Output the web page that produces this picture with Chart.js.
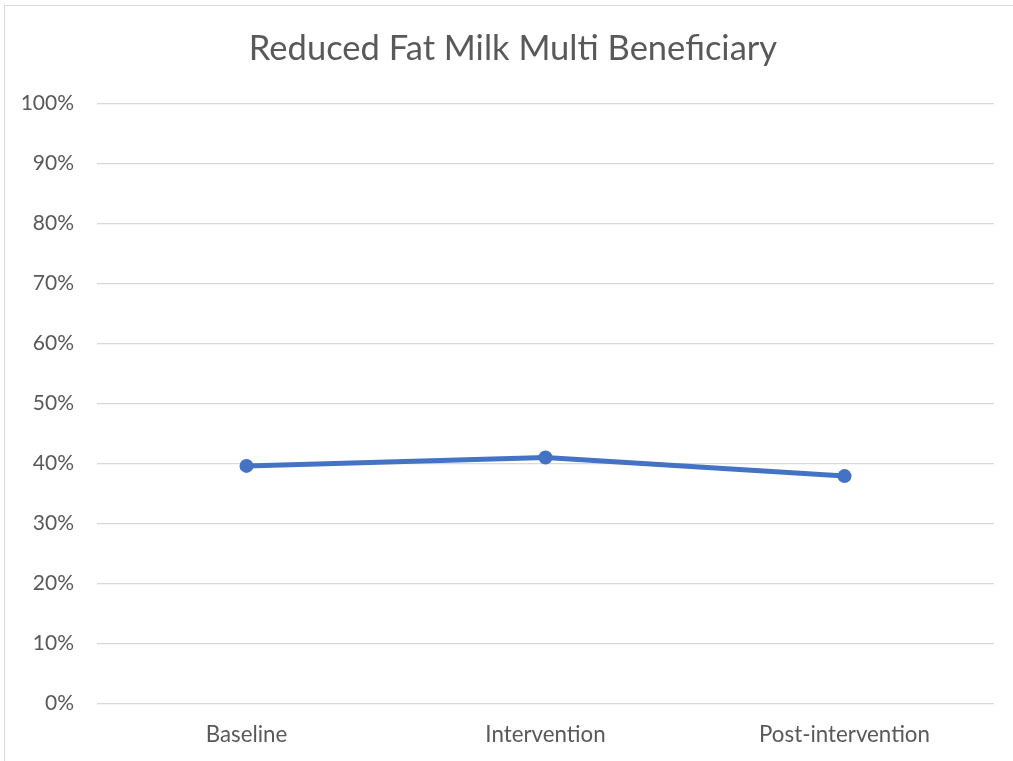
<!DOCTYPE html>
<html>
<head>
<meta charset="utf-8">
<script src="https://cdn.jsdelivr.net/npm/chart.js@4/dist/chart.umd.min.js"></script>
<style>
  html, body { margin: 0; padding: 0; background: #fff; }
  #wrap { position: relative; width: 1013px; height: 761px; overflow: hidden; }
  #frame { position: absolute; left: 4px; top: 5px; width: 1100px; height: 900px; border: 1px solid #d9d9d9; box-sizing: border-box; pointer-events: none; }
  canvas { position: absolute; left: 0; top: 0; }
</style>
</head>
<body>
<div id="wrap">
  <canvas id="c" width="1013" height="761"></canvas>
  <div id="frame"></div>
</div>
<script>
const categories = ['Baseline', 'Intervention', 'Post-intervention'];
const shareValues = [39.6, 41.0, 37.9];
const yTicks = [0, 10, 20, 30, 40, 50, 60, 70, 80, 90, 100];

const textColor = '#595959';
const fontFamily = 'Lato, "Open Sans", sans-serif';

new Chart(document.getElementById('c'), {
  type: 'line',
  data: {
    labels: categories,
    datasets: [{
      label: 'Reduced Fat Milk Multi Beneficiary',
      data: shareValues,
      borderColor: '#4472C4',
      backgroundColor: '#4472C4',
      borderWidth: 5,
      pointRadius: 7,
      pointHoverRadius: 7,
      pointBorderWidth: 0,
      tension: 0
    }]
  },
  options: {
    responsive: false,
    animation: false,
    layout: { padding: { left: 13, right: 0, top: 0, bottom: 0 } },
    plugins: {
      legend: { display: false },
      tooltip: { enabled: false },
      title: {
        display: true,
        text: 'Reduced Fat Milk Multi Beneficiary',
        color: textColor,
        font: { family: fontFamily, size: 34.5, weight: 'normal' },
        padding: { top: 28.3, bottom: 33.8 }
      }
    },
    scales: {
      x: {
        offset: true,
        afterFit: s => { s.height = 57.5; },
        grid: { display: false, drawTicks: false },
        border: { display: false },
        ticks: { color: textColor, font: { family: fontFamily, size: 22.3 }, padding: 18 }
      },
      y: {
        min: 0,
        max: 100,
        afterFit: s => { s.width = 84; },
        afterBuildTicks: s => { s.ticks = yTicks.map(v => ({ value: v })); },
        grid: { color: '#d9d9d9', lineWidth: 1.3, drawTicks: false },
        border: { display: false },
        ticks: { color: textColor, font: { family: fontFamily, size: 21 }, padding: 23, callback: v => v + '%' }
      },
      // empty right-hand margin so the plot ends short of the frame edge
      yRight: {
        position: 'right',
        min: 0,
        max: 100,
        afterFit: s => { s.width = 19; },
        grid: { display: false, drawTicks: false },
        border: { display: false },
        ticks: { display: false }
      }
    }
  }
});
</script>
</body>
</html>
